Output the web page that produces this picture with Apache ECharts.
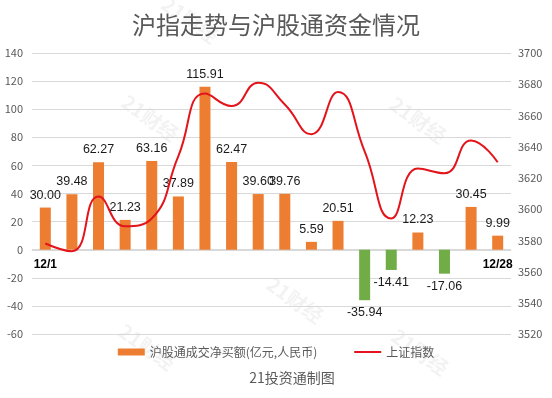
<!DOCTYPE html>
<html><head><meta charset="utf-8">
<script src="https://cdn.jsdelivr.net/npm/echarts@6/dist/echarts.min.js"></script>
<style>html,body{margin:0;padding:0;background:#fff}#c{width:552px;height:398px}</style>
</head><body><div id="c"></div>
<script>
const categories = ['12/1','12/2','12/3','12/6','12/7','12/8','12/9','12/10','12/13','12/14','12/15','12/16','12/17','12/20','12/21','12/22','12/23','12/28'];
const netBuy = [30.00,39.48,62.27,21.23,63.16,37.89,115.91,62.47,39.60,39.76,5.59,20.51,-35.94,-14.41,12.23,-17.06,30.45,9.99];
const shIndex = [3578,3573,3608,3589,3594,3634,3674,3666,3681,3667,3648,3675,3637,3594,3626,3623,3644,3630];
const leftTicks = {min:-60, max:140, interval:20};
const rightTicks = {min:3520, max:3700, interval:20};

const chart = echarts.init(document.getElementById('c'), null, {renderer:'canvas'});
const barData = netBuy.map(v => ({
  value: v,
  itemStyle: {color: v >= 0 ? '#ED7D31' : '#70AD47'},
  label: {position: v >= 0 ? 'top' : 'bottom'}
}));
const wm = [[150,118],[418,120],[147,347],[295,300],[420,352],[190,20]].map(p => ({
  type:'text', x:p[0], y:p[1], rotation:-0.62, z:-1,
  style:{text:'21财经', fill:'rgba(0,0,0,0.05)', font:'bold 20px "Noto Sans CJK SC"', align:'center', verticalAlign:'middle'}
}));
chart.setOption({
  animation:false,
  textStyle:{fontFamily:'"Noto Sans CJK SC", sans-serif'},
  title:{text:'沪指走势与沪股通资金情况', left:'center', top:8,
    textStyle:{fontSize:24, fontWeight:'normal', color:'#595959'}},
  grid:{left:32, right:41, top:53, bottom:64, containLabel:false},
  legend:{bottom:35, left:'center', itemWidth:27, itemHeight:7, itemGap:36,
    textStyle:{fontSize:12, color:'#595959'},
    data:[{name:'沪股通成交净买额(亿元,人民币)', icon:'rect'}, {name:'上证指数', itemStyle:{opacity:0}}]},
  graphic:[{type:'text', x:292, y:378, style:{text:'21投资通制图', fill:'#595959', font:'14px "Noto Sans CJK SC"', align:'center', verticalAlign:'middle'}}].concat(wm),
  xAxis:{type:'category', data:categories, offset:-84,
    axisLine:{show:true, onZero:false, lineStyle:{color:'#d9d9d9'}}, axisTick:{show:false},
    axisLabel:{interval:0, margin:9, fontSize:12, fontWeight:'bold', color:'#000', fontFamily:'"Liberation Sans", sans-serif',
      formatter:(v,i)=> (i===0 || i===categories.length-1) ? v : ''}},
  yAxis:[
    {type:'value', min:leftTicks.min, max:leftTicks.max, interval:leftTicks.interval,
     axisLine:{show:false}, axisTick:{show:false},
     axisLabel:{fontSize:11, color:'#595959', margin:9},
     splitLine:{lineStyle:{color:'#d9d9d9'}}},
    {type:'value', min:rightTicks.min, max:rightTicks.max, interval:rightTicks.interval,
     axisLine:{show:false}, axisTick:{show:false},
     axisLabel:{fontSize:11, color:'#595959', margin:7, formatter:v=>String(v)},
     splitLine:{show:false}}
  ],
  series:[
    {name:'沪股通成交净买额(亿元,人民币)', type:'bar', data:barData, barWidth:11,
     itemStyle:{color:'#ED7D31'},
     label:{show:true, fontSize:12.5, fontFamily:'"Liberation Sans", sans-serif', color:'#1a1a1a', distance:6, formatter:p=>p.value.toFixed(2)}},
    {name:'上证指数', type:'line', yAxisIndex:1, data:shIndex, smooth:0.5, symbol:'none',
     lineStyle:{color:'#E3141B', width:2}, itemStyle:{color:'#E3141B'}, z:3}
  ]
});
</script></body></html>
